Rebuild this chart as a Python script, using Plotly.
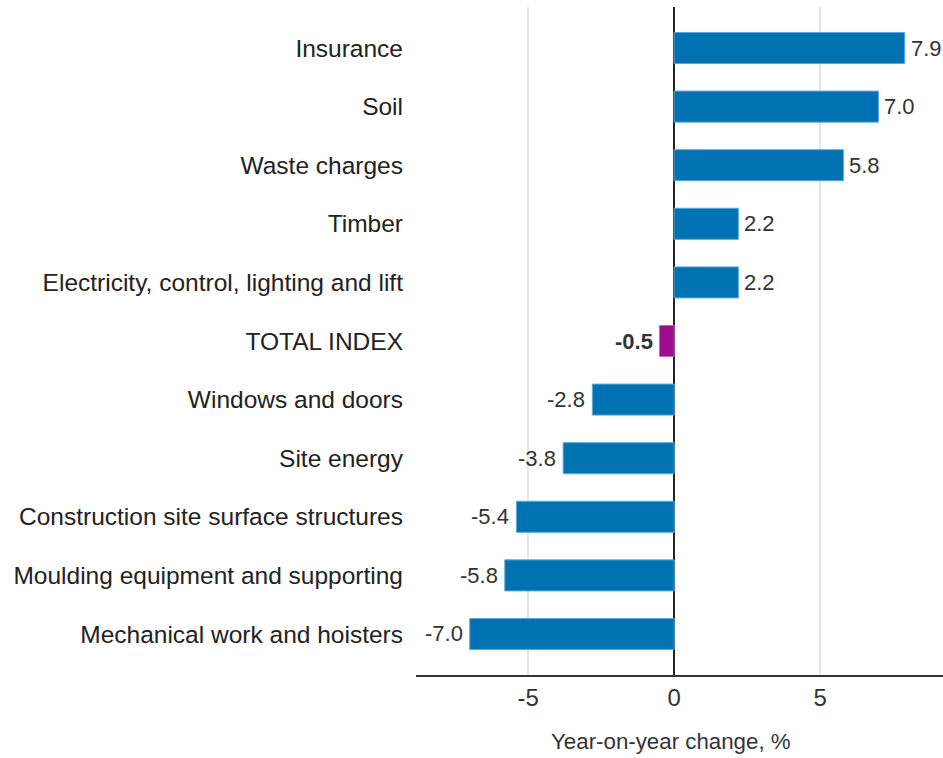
import plotly.graph_objects as go

categories = ["Mechanical work and hoisters", "Moulding equipment and supporting",
              "Construction site surface structures", "Site energy", "Windows and doors",
              "TOTAL INDEX", "Electricity, control, lighting and lift", "Timber",
              "Waste charges", "Soil", "Insurance"]
values = [-7.0, -5.8, -5.4, -3.8, -2.8, -0.5, 2.2, 2.2, 5.8, 7.0, 7.9]
value_labels = ["-7.0", "-5.8", "-5.4", "-3.8", "-2.8", "<b>-0.5</b>", "2.2", "2.2", "5.8", "7.0", "7.9"]
x_ticks = [-5, 0, 5]
x_title = "Year-on-year change, %"

BLUE = "#0072b2"
PURPLE = "#9c0a8e"
colors = [PURPLE if c == "TOTAL INDEX" else BLUE for c in categories]
line_colors = ["#c06ab8" if c == "TOTAL INDEX" else "#5fa8d8" for c in categories]

FONT = "Liberation Sans, Arial"

fig = go.Figure(go.Bar(
    y=categories, x=values, orientation="h",
    marker=dict(color=colors, line=dict(color=line_colors, width=1)),
    width=0.53,
    hoverinfo="skip",
))

for cat, v, lab in zip(categories, values, value_labels):
    fig.add_annotation(
        x=v, y=cat, xref="x", yref="y", text=lab, showarrow=False,
        xanchor="left" if v >= 0 else "right", yanchor="middle",
        xshift=4 if v >= 0 else -5,
        font=dict(size=22, color="#333333", family=FONT),
    )

fig.add_annotation(
    x=0.484, y=0, xref="paper", yref="paper", text=x_title, showarrow=False,
    xanchor="center", yanchor="middle", yshift=-66,
    font=dict(size=22.3, color="#333333", family=FONT),
)

fig.update_layout(
    width=943, height=758,
    margin=dict(l=416, r=0, t=7, b=83),
    paper_bgcolor="white", plot_bgcolor="white",
    font=dict(family=FONT, size=22, color="#333333"),
    showlegend=False,
    xaxis=dict(
        range=[-8.84, 9.21], tickvals=x_ticks, ticktext=[str(t) for t in x_ticks],
        showgrid=True, gridcolor="#e6e6e6", gridwidth=2,
        zeroline=True, zerolinecolor="#222222", zerolinewidth=2,
        showline=True, linecolor="#333333", linewidth=1.5,
        ticks="", tickfont=dict(size=24, color="#333333"),
        fixedrange=True,
    ),
    yaxis=dict(
        range=[-0.7, 10.7], showgrid=False, zeroline=False, showline=False,
        ticks="", ticklabelstandoff=12, tickfont=dict(size=24.5, color="#222222"),
        fixedrange=True,
    ),
)

fig.write_html("out.html", config={"displayModeBar": False},
               post_script="document.body.style.margin='0';")
